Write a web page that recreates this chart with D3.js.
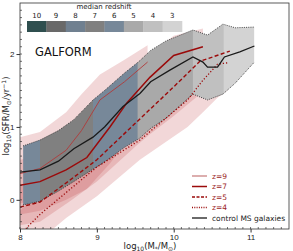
<!DOCTYPE html>
<html><head><meta charset="utf-8">
<script src="https://cdn.jsdelivr.net/npm/d3@7"></script>
<style>html,body{margin:0;padding:0;background:#fff}svg{display:block;font-family:"DejaVu Sans",sans-serif}</style>
</head><body><svg id="c" width="293" height="251"></svg>
<script>
// ---- data ----
const cbLabels = ["10","9","8","7","6","5","4","3"];
const cbColors = ["#2f4f4f","#696969","#708090","#808080","#778899","#a9a9a9","#c0c0c0","#d3d3d3"];
// control MS band: strips (x start, x end, median-redshift colour index)
const stripEdges = [8.04, 8.26, 8.95, 9.53, 10.25, 10.65, 11.05];
const stripZ = ["6","7","6","5","4","3"];
const bandX     = [8.04, 8.26, 8.5, 8.7, 8.95, 9.1, 9.36, 9.55, 9.7, 9.9, 10.25, 10.44, 10.64, 10.8, 11.05];
const bandUpper = [0.74, 0.82, 0.95, 1.1, 1.37, 1.5, 1.74, 1.9, 2.05, 2.18, 2.33, 2.26, 2.41, 2.36, 2.37];
const bandLower = [-0.07, -0.02, 0.12, 0.25, 0.42, 0.52, 0.72, 0.84, 0.98, 1.12, 1.45, 1.37, 1.45, 1.6, 1.89];
// median control line
const ctrlX = [8.0, 8.26, 8.5, 8.7, 8.95, 9.1, 9.34, 9.56, 9.7, 9.95, 10.25, 10.38, 10.44, 10.57, 10.66, 10.86, 11.05];
const ctrlY = [0.38, 0.41, 0.53, 0.70, 0.86, 1.0, 1.28, 1.46, 1.62, 1.78, 1.96, 1.89, 1.82, 1.82, 1.96, 2.03, 2.11];
// redshift samples
const z9X = [8.0, 8.26, 8.6, 8.8, 9.04, 9.36, 9.66];
const z9Y = [0.36, 0.43, 0.68, 0.95, 1.37, 1.62, 1.89];
const z9Lo = [-0.05, 0.02, 0.25, 0.5, 0.85, 1.12, 1.4];
const z9Hi = [0.86, 0.93, 1.2, 1.45, 1.72, 1.92, 2.12];
const z7X = [8.0, 8.26, 8.6, 8.87, 9.17, 9.39, 9.69, 10.0, 10.38];
const z7Y = [0.2, 0.25, 0.41, 0.58, 1.0, 1.33, 1.68, 1.98, 2.1];
const z7Lo = [-0.2, -0.15, 0.0, 0.15, 0.5, 0.8, 1.15, 1.45, 1.6];
const z7Hi = [0.55, 0.6, 0.8, 1.0, 1.4, 1.7, 2.0, 2.25, 2.35];
const z5X = [8.0, 8.26, 8.65, 9.0, 9.52, 9.69, 10.0, 10.34, 10.73];
const z5Y = [-0.1, -0.03, 0.27, 0.55, 1.07, 1.24, 1.55, 1.9, 2.04];
const z5Lo = [-0.35, -0.3, -0.02, 0.25, 0.75, 0.9, 1.15, 1.45, 1.6];
const z5Hi = [0.2, 0.25, 0.55, 0.85, 1.35, 1.5, 1.8, 2.15, 2.3];
const z4X = [8.0, 8.09, 8.26, 8.6, 9.0, 9.56, 10.18, 10.38, 10.57, 10.7];
const z4Y = [-0.5, -0.38, -0.2, 0.1, 0.45, 0.82, 1.37, 1.64, 1.86, 1.88];
const z4Lo = [-0.85, -0.75, -0.55, -0.25, 0.05, 0.55, 1.0, 1.2, 1.4, 1.5];
const z4Hi = [-0.15, -0.05, 0.1, 0.4, 0.7, 1.05, 1.6, 1.85, 2.1, 2.15];
const xTicks = [8, 9, 10, 11];
const yTicks = [0, 1, 2];
const legendLabels = ["z=9","z=7","z=5","z=4","control MS galaxies"];

// ---- layout ----
const svg = d3.select("#c");
const x = d3.scaleLinear().domain([8, 11.5]).range([20, 289]);
const y = d3.scaleLinear().domain([-0.4, 2.7]).range([229, 3]);
const red = "#9b0a0a";

svg.append("clipPath").attr("id","clip").append("rect")
  .attr("x",20).attr("y",3).attr("width",269).attr("height",226);
const g = svg.append("g").attr("clip-path","url(#clip)");

function band(xs, lo, hi, fill, op){
  const d = xs.map((v,i)=>({x:v, lo:lo[i], hi:hi[i]}));
  g.append("path").datum(d)
   .attr("d", d3.area().x(p=>x(p.x)).y0(p=>y(p.lo)).y1(p=>y(p.hi)))
   .attr("fill", fill).attr("fill-opacity", op);
}
band(z4X, z4Lo, z4Hi, "#c0393b", 0.2);
band(z5X, z5Lo, z5Hi, "#c0393b", 0.2);
band(z7X, z7Lo, z7Hi, "#c0393b", 0.2);
band(z9X, z9Lo, z9Hi, "#c0393b", 0.2);

// control band strips
const bandData = bandX.map((v,i)=>({x:v, lo:bandLower[i], hi:bandUpper[i]}));
const bandArea = d3.area().x(p=>x(p.x)).y0(p=>y(p.lo)).y1(p=>y(p.hi));
stripZ.forEach((z,i)=>{
  const cid = "sc"+i;
  svg.append("clipPath").attr("id",cid).append("rect")
    .attr("x", x(stripEdges[i])).attr("y", 0)
    .attr("width", x(stripEdges[i+1]) - x(stripEdges[i]) + (i < stripZ.length-1 ? 0.5 : 0)).attr("height", 251);
  g.append("g").attr("clip-path","url(#"+cid+")").append("path").datum(bandData)
   .attr("d", bandArea).attr("fill", cbColors[cbLabels.indexOf(z)]);
});
const lineFn = d3.line().x(p=>x(p.x)).y(p=>y(p.v));
g.append("path").datum(bandData.map(p=>({x:p.x, v:p.hi}))).attr("d", lineFn)
  .attr("fill","none").attr("stroke","#222").attr("stroke-width",0.8).attr("stroke-dasharray","1,1.2");
g.append("path").datum(bandData.map(p=>({x:p.x, v:p.lo}))).attr("d", lineFn)
  .attr("fill","none").attr("stroke","#222").attr("stroke-width",0.8).attr("stroke-dasharray","1,1.2");

function line(xs, ys, stroke, w, dash){
  const p = g.append("path").datum(xs.map((v,i)=>({x:v, v:ys[i]})))
    .attr("d", lineFn).attr("fill","none").attr("stroke", stroke).attr("stroke-width", w);
  if (dash) p.attr("stroke-dasharray", dash);
}
line(z9X, z9Y, "#b03a3a", 0.9);
line(z7X, z7Y, red, 1.5);
line(z5X, z5Y, red, 1.4, "4,2.4");
line(z4X, z4Y, red, 1.3, "1.2,2");
line(ctrlX, ctrlY, "#1a1a1a", 1.3);

// axes
const xa = svg.append("g").attr("transform","translate(0,229)")
  .call(d3.axisBottom(x).tickValues(xTicks).tickFormat(d3.format("d")).tickSize(3.5).tickPadding(2));
const ya = svg.append("g").attr("transform","translate(20,0)")
  .call(d3.axisLeft(y).tickValues(yTicks).tickFormat(d3.format("d")).tickSize(3.5).tickPadding(2));
[xa, ya].forEach(a=>{ a.select(".domain").remove(); a.selectAll("text").attr("font-size",8).attr("fill","#222"); a.selectAll("line").attr("stroke","#333"); });
// minor ticks (inward)
const xm = d3.range(80, 115).map(v=>v/10);
svg.append("g").selectAll("line").data(xm).join("line")
  .attr("x1",d=>x(d)).attr("x2",d=>x(d)).attr("y1",229).attr("y2",227).attr("stroke","#333").attr("stroke-width",0.7);
const ym = d3.range(-3, 27).map(v=>v/10);
svg.append("g").selectAll("line").data(ym).join("line")
  .attr("x1",20).attr("x2",22).attr("y1",d=>y(d)).attr("y2",d=>y(d)).attr("stroke","#333").attr("stroke-width",0.7);
svg.append("rect").attr("x",20).attr("y",3).attr("width",269).attr("height",226)
  .attr("fill","none").attr("stroke","#333").attr("stroke-width",0.8);

// colorbar
const cbx = d3.scaleBand().domain(cbLabels).range([27, 182]);
svg.append("g").selectAll("rect").data(cbLabels).join("rect")
  .attr("x",d=>cbx(d)).attr("y",21).attr("width",cbx.bandwidth()+0.3).attr("height",11)
  .attr("fill",(d,i)=>cbColors[i]);
svg.append("g").selectAll("text").data(cbLabels).join("text")
  .attr("x",d=>cbx(d)+cbx.bandwidth()/2).attr("y",17.5).attr("text-anchor","middle")
  .attr("font-size",7).attr("fill","#222").text(d=>d);
svg.append("text").attr("x",104).attr("y",8.5).attr("text-anchor","middle").attr("font-size",7).attr("fill","#222").text("median redshift");

svg.append("text").attr("x",35).attr("y",56).attr("font-size",11.5).attr("fill","#111").text("GALFORM");

// legend
const legStyles = [
  {c:"#d49a9a", w:1.6, d:null}, {c:red, w:1.5, d:null}, {c:red, w:1.4, d:"3,1.5"},
  {c:red, w:1.3, d:"1,1.3"}, {c:"#1a1a1a", w:1.3, d:null}];
const legY = [176, 186.5, 197, 207.5, 218];
legendLabels.forEach((t,i)=>{
  const l = svg.append("line").attr("x1",192).attr("x2",207).attr("y1",legY[i]).attr("y2",legY[i])
    .attr("stroke",legStyles[i].c).attr("stroke-width",legStyles[i].w);
  if (legStyles[i].d) l.attr("stroke-dasharray",legStyles[i].d);
  svg.append("text").attr("x",212).attr("y",legY[i]+2.7).attr("font-size",7.5)
    .attr("fill", i<4 ? "#9b1c1c" : "#222").text(t);
});

// axis labels
svg.append("text").attr("x",150).attr("y",249).attr("text-anchor","middle").attr("font-size",8.5).attr("fill","#222")
  .html('log<tspan font-size="6" dy="2">10</tspan><tspan dy="-2">(M</tspan><tspan font-size="6" dy="2">*</tspan><tspan dy="-2">/M</tspan><tspan font-size="6" dy="2">⊙</tspan><tspan dy="-2">)</tspan>');
svg.append("text").attr("transform","translate(9,116) rotate(-90)").attr("text-anchor","middle").attr("font-size",8.5).attr("fill","#222")
  .html('log<tspan font-size="6" dy="2">10</tspan><tspan dy="-2">(SFR/M</tspan><tspan font-size="6" dy="2">⊙</tspan><tspan dy="-2">/yr</tspan><tspan font-size="6" dy="-3">−1</tspan><tspan dy="3">)</tspan>');
</script></body></html>
